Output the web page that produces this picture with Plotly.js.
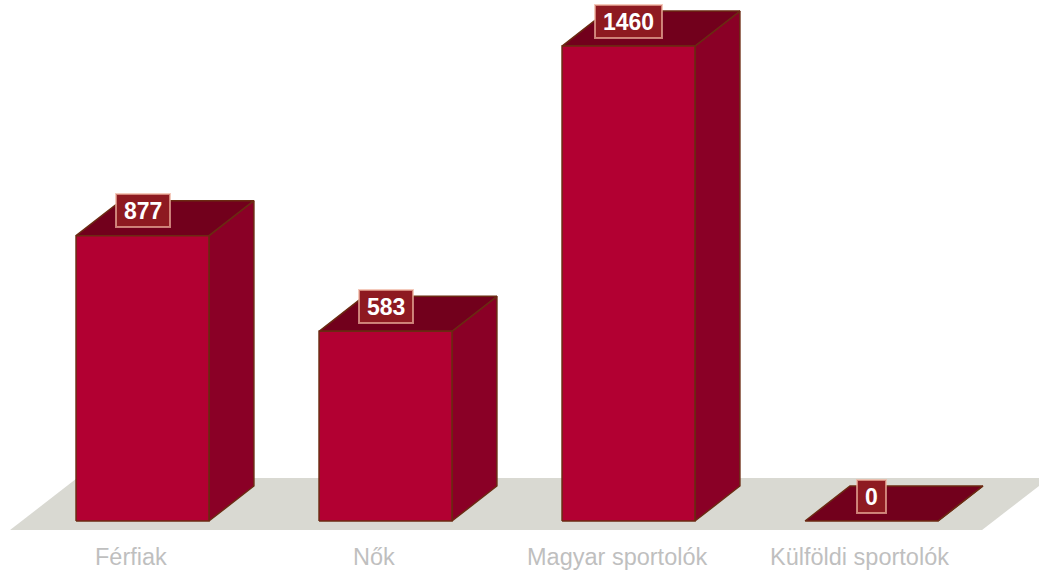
<!DOCTYPE html>
<html><head><meta charset="utf-8">
<script src="https://cdn.plot.ly/plotly-3.0.1.min.js"></script>
<style>html,body{margin:0;padding:0;background:#fff}#chart{width:1039px;height:571px}</style>
</head><body><div id="chart"></div>
<script>
// ---- data ----
const categories = ["Férfiak", "Nők", "Magyar sportolók", "Külföldi sportolók"];
const values = [877, 583, 1460, 0];
const valueLabels = ["877", "583", "1460", "0"];

// ---- style / geometry constants (data units) ----
const W = 0.547;      // front face width
const DX = 0.185;     // depth offset in x
const DY = 107.6;     // depth offset in y
const FRONT = '#b20032', SIDE = '#8a0026', TOP = '#72001c', EDGE = '#6b2a12';

const traces = [];
function poly(xs, ys, fill) {
  traces.push({type:'scatter', mode:'lines', x:[...xs, xs[0]], y:[...ys, ys[0]],
    fill:'toself', fillcolor:fill, line:{color:EDGE, width:1.5},
    hoverinfo:'skip', showlegend:false});
}
categories.forEach((c, i) => {
  const v = values[i];
  const x0 = i - W/2, x1 = i + W/2;
  // side face
  poly([x1, x1+DX, x1+DX, x1], [0, DY, v+DY, v], SIDE);
  // top face
  poly([x0, x1, x1+DX, x0+DX], [v, v, v+DY, v+DY], TOP);
  // front face
  if (v > 0) poly([x0, x1, x1, x0], [0, 0, v, v], FRONT);
});

const n = categories.length;
// floor
const fl = -0.545, fr = n - 1 + 0.455, fy0 = -27.7, fy1 = 132, fdx = 0.276;
const shapes = [{type:'path', layer:'below', xref:'x', yref:'y',
  path:`M${fl},${fy0} L${fr},${fy0} L${fr+fdx},${fy1} L${fl+fdx},${fy1} Z`,
  fillcolor:'#d9d9d2', line:{width:0}}];

const annotations = [];
categories.forEach((c, i) => {
  annotations.push({x:i, y:values[i], xref:'x', yref:'y', yshift:25, showarrow:false,
    text:'<b>'+valueLabels[i]+'</b>', font:{family:'Liberation Sans, Arial', size:23, color:'#ffffff'},
    bgcolor:'#8e1a21', bordercolor:'rgba(240,180,160,0.7)', borderwidth:2, borderpad:0,
    width:12.8*valueLabels[i].length+14, height:31, xanchor:'center', yanchor:'middle'});
  annotations.push({x:i, y:0, xref:'x', yref:'y', yshift:-36, xshift:-12, showarrow:false,
    text:c, font:{family:'Liberation Sans, Arial', size:23.5, color:'#bfbfbf'},
    xanchor:'center', yanchor:'middle'});
});

const layout = {
  width:1039, height:571, margin:{l:0,r:0,t:0,b:0},
  paper_bgcolor:'#ffffff', plot_bgcolor:'#ffffff',
  xaxis:{range:[-0.5864, 3.6893], visible:false, fixedrange:true},
  yaxis:{range:[-153.7, 1601.6], visible:false, fixedrange:true},
  shapes, annotations, showlegend:false, hovermode:false
};
Plotly.newPlot('chart', traces, layout, {displayModeBar:false, staticPlot:true});
</script></body></html>
